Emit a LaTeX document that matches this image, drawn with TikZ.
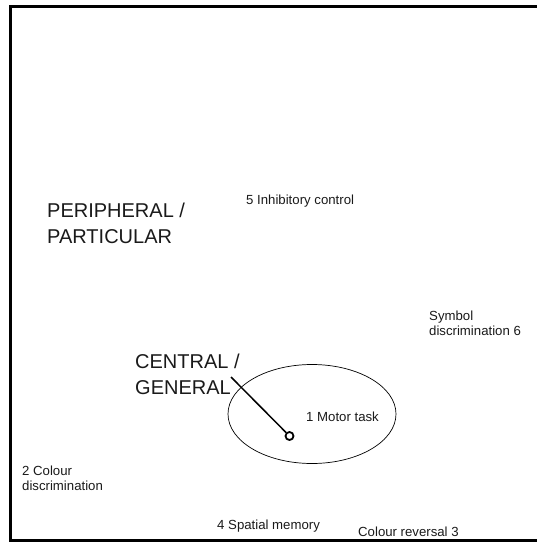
\documentclass[tikz,border=0pt]{standalone}
\usepackage{fontspec}
\setmainfont{Liberation Sans}
\usepackage{xcolor}
\usepackage{tikz}
\usetikzlibrary{shapes.geometric}

\definecolor{ink}{HTML}{1A1A1A}
\tikzset{
  big/.style={anchor=base west, inner sep=0pt, align=left, text=ink,
    font=\fontsize{20}{25.5}\selectfont},
  small/.style={anchor=base west, inner sep=0pt, align=left, text=ink,
    font=\fontsize{13.2}{15}\selectfont},
}

\begin{document}
\begin{tikzpicture}[x=1pt, y=-1pt]
\useasboundingbox (0,0) rectangle (537,544);
% 外框
\draw[line width=2.4pt] (545,6.5) -- (10.5,6.5) -- (10.5,540.5) -- (545,540.5);
% 节点定义（多行文字按末行基线定位）
\node[big] (peri) at (47,243) {PERIPHERAL /\\PARTICULAR};
\node[big] (central) at (135,394) {CENTRAL /\\GENERAL};
\node[small] (inhib) at (246,204) {5 Inhibitory control};
\node[small] (symbol) at (429,335) {Symbol\\discrimination 6};
\node[small] (motor) at (306,421) {1 Motor task};
\node[small] (colour) at (22,490) {2 Colour\\discrimination};
\node[small] (spatial) at (217,529) {4 Spatial memory};
\node[small] (reversal) at (358,536) {Colour reversal 3};
\node[draw, ellipse, minimum width=168pt, minimum height=99pt, line width=0.7pt] (core) at (312,414) {};
\node[draw, circle, minimum size=8pt, inner sep=0pt, line width=1.8pt] (hub) at (289.5,436) {};
\coordinate (tip) at (231,377);
% 连线
\draw[line width=1.5pt] (tip) -- (hub);
\end{tikzpicture}
\end{document}
